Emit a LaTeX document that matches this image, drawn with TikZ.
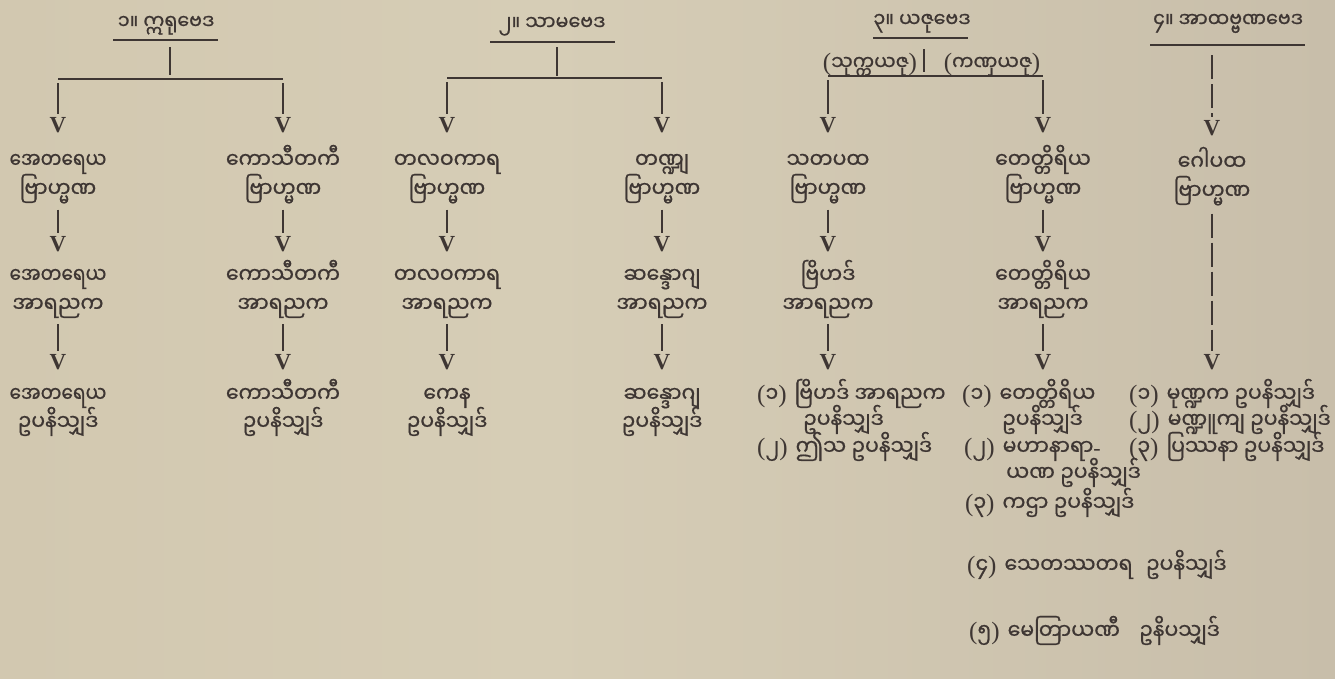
\documentclass[tikz,border=0pt]{standalone}
\usepackage{fontspec}
\newfontfamily\mya[Script=Myanmar,FakeStretch=0.93,FakeBold=0.7]{Noto Sans Myanmar UI}
\newfontfamily\myanarrow[Script=Myanmar,FakeStretch=0.84,FakeBold=0.7]{Noto Sans Myanmar UI}
\newfontfamily\tipfont{Liberation Serif}
\newfontfamily\pfont{Liberation Serif}
\newcommand\parL{{\pfont\fontsize{25}{25}\selectfont(}}
\newcommand\parR{{\pfont\fontsize{25}{25}\selectfont)}}
\newcommand\numgap{\hspace{8pt}}
\newcommand\hyph{{\pfont-}}
\usetikzlibrary{calc}
\definecolor{paperA}{RGB}{210,200,176}
\definecolor{paperB}{RGB}{214,205,182}
\definecolor{paperC}{RGB}{200,190,170}
\definecolor{ink}{RGB}{62,54,51}
\begin{document}
\begin{tikzpicture}[x=1pt,y=-1pt,
  t/.style={font=\mya\fontsize{22}{22}\selectfont, text=ink, inner sep=0pt, anchor=base},
  tn/.style={t, font=\myanarrow\fontsize{22}{22}\selectfont},
  tl/.style={t, anchor=base west},
  hd/.style={t, font=\mya\fontsize{20.5}{20.5}\selectfont},
  vtip/.style={font=\tipfont\bfseries\fontsize{23}{23}\selectfont, text=ink, inner sep=0pt},
  rule/.style={draw=ink, line width=1.9pt},
  stem/.style={rule, shorten <=6pt, shorten >=3pt},
  dashrule/.style={rule, dash pattern=on 24pt off 5pt},
]
% paper, with the fold in the middle
\shade[left color=paperA, right color=paperB] (0,0) rectangle (545,678);
\shade[left color=paperB, right color=paperC] (545,0) rectangle (1335,678);
\useasboundingbox (0,0) rectangle (1335,678);

% ---- the four Vedas ----
\node[hd] (h1) at (166,29) {၁။ ဣရုဗေဒ};
\node[hd] (h2) at (552,30) {၂။ သာမဗေဒ};
\node[hd] (h3) at (922,27) {၃။ ယဇုဗေဒ};
\node[hd] (s3) at (870,70) {\parL သုက္ကယဇု\parR};
\node[hd] (k3) at (992,70) {\parL ကဏှယဇု\parR};
\node[hd] (h4) at (1228,27) {၄။ အာထဗ္ဗဏဗေဒ};

% underlines and junction bars
\draw[rule] (113,40) -- (218,40);
\draw[rule] (490,42) -- (615,42);
\draw[rule] (873,38) -- (968,38);
\draw[rule] (1150,45) -- (1305,45);
\coordinate (u1) at (170,40);  \coordinate (j1) at (170,79);
\coordinate (u2) at (557,42);  \coordinate (j2) at (557,78);
\coordinate (u3) at (924,44);  \coordinate (j3) at (924,76);
\coordinate (b1L) at (58,79);   \coordinate (b1R) at (283,79);
\coordinate (b2L) at (447,78);  \coordinate (b2R) at (662,78);
\coordinate (b3L) at (828,76);  \coordinate (b3R) at (1043,76);
\coordinate (u4) at (1212,45);
\draw[rule] (b1L) -- (b1R);
\draw[rule] (b2L) -- (b2R);
\draw[rule] (b3L) -- (b3R);
\draw[stem, shorten <=7pt, shorten >=4pt] (u1) -- (j1);
\draw[stem, shorten <=5pt, shorten >=2pt] (u2) -- (j2);
\draw[rule, shorten <=5pt, shorten >=4pt] (u3) -- (j3);

% ---- arrow heads, first row ----
\foreach \n/\x in {1/58,2/283,3/447,4/662,5/828,6/1043}
  \node[vtip] (va\n) at (\x,125) {V};
\node[vtip] (va7) at (1212,128) {V};
\foreach \n/\b in {1/b1L,2/b1R,3/b2L,4/b2R,5/b3L,6/b3R}
  \draw[stem, shorten <=4pt] (\b) -- (va\n);
\draw[dashrule, shorten <=10pt, shorten >=3pt] (u4) -- (va7);

% ---- Brahmanas ----
\node[tn] (a1) at (58,168)  {အေတရေယ};   \node[t] (a1b) at (58,197)   {ဗြာဟ္မဏ};
\node[t] (a2) at (283,168)  {ကောသီတကီ}; \node[t] (a2b) at (283,197)  {ဗြာဟ္မဏ};
\node[t] (a3) at (447,168)  {တလဝကာရ};   \node[t] (a3b) at (447,197)  {ဗြာဟ္မဏ};
\node[t] (a4) at (662,168)  {တဏ္ဍျ};     \node[t] (a4b) at (662,197)  {ဗြာဟ္မဏ};
\node[t] (a5) at (828,168)  {သတပထ};     \node[t] (a5b) at (828,197)  {ဗြာဟ္မဏ};
\node[t] (a6) at (1043,168) {တေတ္တိရိယ}; \node[t] (a6b) at (1043,197) {ဗြာဟ္မဏ};
\node[t] (a7) at (1212,170) {ဂေါပထ};    \node[t] (a7b) at (1212,199) {ဗြာဟ္မဏ};

% ---- arrow heads, second row ----
\foreach \n/\x in {1/58,2/283,3/447,4/662,5/828,6/1043}
  \node[vtip] (vb\n) at (\x,244) {V};
\foreach \n in {1,...,6}
  \draw[stem] (a\n b) -- (vb\n);

% ---- Aranyakas ----
\node[tn] (r1) at (58,283)  {အေတရေယ};   \node[t] (r1b) at (58,312)   {အာရညက};
\node[t] (r2) at (283,283)  {ကောသီတကီ}; \node[t] (r2b) at (283,312)  {အာရညက};
\node[t] (r3) at (447,283)  {တလဝကာရ};   \node[t] (r3b) at (447,312)  {အာရညက};
\node[t] (r4) at (662,283)  {ဆန္ဒောဂျ};  \node[t] (r4b) at (662,312)  {အာရညက};
\node[t] (r5) at (828,283)  {ဗြိဟဒ်};    \node[t] (r5b) at (828,312)  {အာရညက};
\node[t] (r6) at (1043,283) {တေတ္တိရိယ}; \node[t] (r6b) at (1043,312) {အာရညက};

% ---- arrow heads, third row ----
\foreach \n/\x in {1/58,2/283,3/447,4/662,5/828,6/1043,7/1212}
  \node[vtip] (vc\n) at (\x,362) {V};
\foreach \n in {1,...,6}
  \draw[stem] (r\n b) -- (vc\n);
\draw[dashrule, shorten <=8pt, shorten >=3pt] (a7b) -- (vc7);

% ---- Upanishads ----
\node[tn] (p1) at (58,402) {အေတရေယ};   \node[t] (p1b) at (58,430)  {ဥပနိသျှဒ်};
\node[t] (p2) at (283,402) {ကောသီတကီ}; \node[t] (p2b) at (283,430) {ဥပနိသျှဒ်};
\node[t] (p3) at (447,402) {ကေန};       \node[t] (p3b) at (447,430) {ဥပနိသျှဒ်};
\node[t] (p4) at (662,402) {ဆန္ဒောဂျ};  \node[t] (p4b) at (662,430) {ဥပနိသျှဒ်};

\node[tl] (l5a) at (757,402) {\parL၁\parR\numgap ဗြိဟဒ် အာရညက};
\node[tl] (l5b) at (803,428) {ဥပနိသျှဒ်};
\node[tl] (l5c) at (757,455) {\parL၂\parR\numgap ဤသ ဥပနိသျှဒ်};

\node[tl] (l6a) at (962,402) {\parL၁\parR\numgap တေတ္တိရိယ};
\node[tl] (l6b) at (1002,428) {ဥပနိသျှဒ်};
\node[tl] (l6c) at (964,455) {\parL၂\parR\numgap မဟာနာရာ\hyph};
\node[tl] (l6d) at (1006,481) {ယဏ ဥပနိသျှဒ်};
\node[tl] (l6e) at (965,511) {\parL၃\parR\numgap ကဌာ ဥပနိသျှဒ်};
\node[tl] (l6f) at (967,573) {\parL၄\parR\numgap သေတဿတရ\hspace{8pt} ဥပနိသျှဒ်};
\node[tl] (l6g) at (969,639) {\parL၅\parR\numgap မေတြာယဏီ\hspace{14pt} ဥနိပသျှဒ်};

\node[tl] (l7a) at (1129,402) {\parL၁\parR\numgap မုဏ္ဍက ဥပနိသျှဒ်};
\node[tl] (l7b) at (1129,428) {\parL၂\parR\numgap မဏ္ဍူကျ ဥပနိသျှဒ်};
\node[tl] (l7c) at (1129,455) {\parL၃\parR\numgap ပြဿနာ ဥပနိသျှဒ်};
\end{tikzpicture}
\end{document}
